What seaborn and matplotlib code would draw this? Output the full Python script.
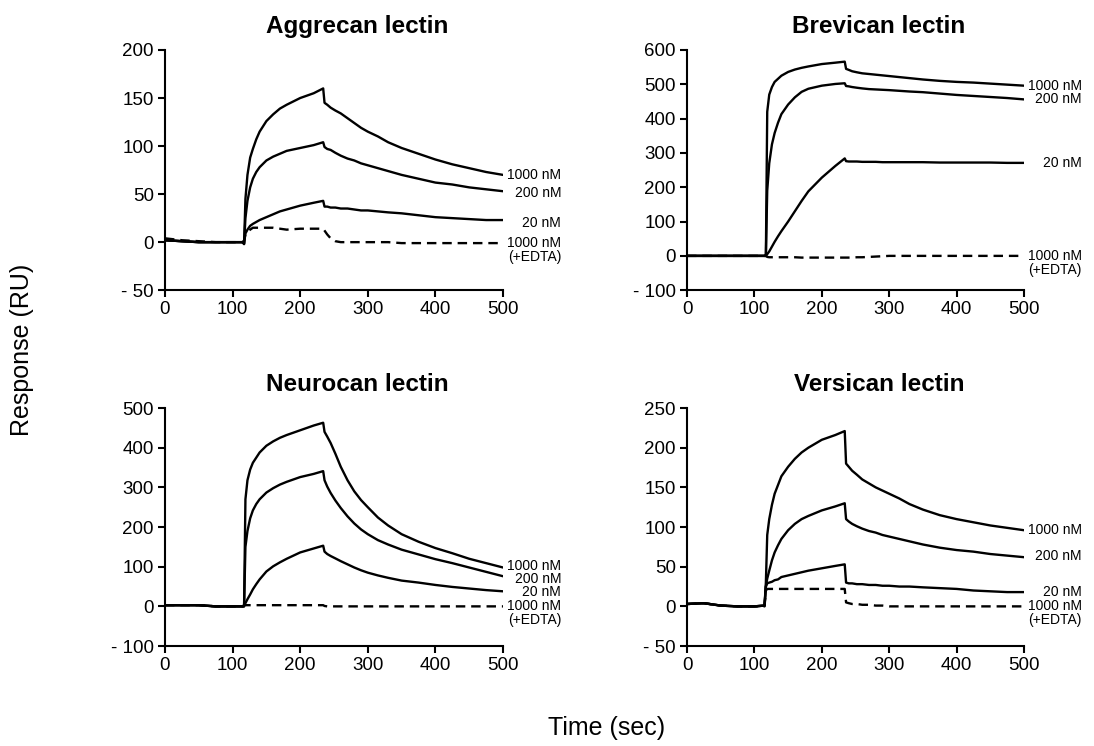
import numpy as np
import pandas as pd
import seaborn as sns
import matplotlib.pyplot as plt

# time points (sec)
t = [0, 25, 50, 75, 100, 115, 117, 119, 122, 126, 130, 135, 140, 150, 160, 170, 180,
     200, 220, 234, 236, 240, 245, 252, 260, 270, 280, 290, 300, 315, 330, 350,
     375, 400, 425, 450, 475, 500]

# Aggrecan lectin
agg_1000 = [2, 1, 0, 0, 0, 0, -2, 45, 70, 88, 97, 107, 115, 126, 133, 139, 143,
            150, 155, 160, 145, 143, 140, 137, 134, 129, 124, 119, 115, 110, 104, 98,
            92, 86, 81, 77, 73, 70]
agg_200 = [2, 1, 0, 0, 0, 0, -2, 25, 43, 57, 66, 73, 78, 85, 89, 92, 95,
           98, 101, 104, 99, 97, 96, 93, 90, 87, 85, 82, 80, 77, 74, 70,
           66, 62, 60, 57, 55, 53]
agg_20 = [2, 1, 0, 0, 0, 0, -1, 9, 13, 17, 19, 21, 23, 26, 29, 32, 34,
          38, 41, 43, 37, 37, 36, 36, 35, 35, 34, 33, 33, 32, 31, 30,
          28, 26, 25, 24, 23, 23]
agg_edta = [4, 2, 1, 0, 0, 0, 2, 8, 11, 13, 15, 15, 15, 15, 15, 14, 13,
            14, 14, 14, 12, 8, 4, 1, 0, 0, 0, 0, 0, 0, 0, -1,
            -1, -1, -1, -1, -1, -1]

# Brevican lectin
bre_1000 = [0, 0, 0, 0, 0, 0, 0, 420, 470, 492, 507, 516, 525, 536, 543, 548, 552,
            559, 563, 566, 545, 542, 538, 535, 532, 530, 528, 526, 524, 521, 518, 514,
            510, 507, 505, 502, 499, 496]
bre_200 = [0, 0, 0, 0, 0, 0, 0, 190, 270, 325, 358, 388, 413, 441, 462, 478, 487,
           496, 501, 503, 495, 494, 492, 490, 488, 486, 485, 484, 483, 481, 479, 477,
           473, 469, 466, 463, 460, 456]
bre_20 = [0, 0, 0, 0, 0, 0, 0, 5, 13, 27, 41, 57, 72, 100, 130, 160, 188,
          228, 262, 284, 276, 275, 275, 275, 274, 274, 274, 273, 273, 273, 273, 273,
          272, 272, 272, 272, 271, 271]
bre_edta = [0, 0, 0, 0, 0, 0, 0, -3, -4, -4, -4, -4, -4, -4, -4, -5, -5,
            -5, -5, -5, -5, -5, -5, -4, -4, -3, -2, -1, 0, 0, 0, 0,
            0, 0, 0, 0, 0, 0]

# Neurocan lectin
neu_1000 = [3, 3, 3, 0, 0, 0, 0, 270, 318, 345, 362, 375, 388, 405, 416, 425, 432,
            444, 456, 463, 440, 428, 412, 385, 352, 318, 290, 268, 250, 224, 204, 182,
            163, 147, 134, 120, 109, 98]
neu_200 = [3, 3, 3, 0, 0, 0, 0, 150, 190, 222, 242, 258, 270, 287, 298, 307, 314,
           326, 334, 341, 318, 302, 286, 267, 248, 227, 209, 194, 182, 167, 156, 143,
           131, 119, 109, 98, 87, 76]
neu_20 = [3, 3, 3, 0, 0, 0, 3, 8, 18, 30, 43, 56, 68, 88, 101, 111, 120,
          136, 146, 153, 138, 132, 127, 121, 114, 106, 98, 91, 85, 78, 72, 65,
          60, 54, 49, 45, 41, 38]
neu_edta = [3, 3, 3, 0, 0, 0, 3, 3, 3, 3, 3, 3, 3, 3, 3, 3, 3,
            3, 3, 3, 1, 0, 0, 0, 0, 0, 0, 0, 0, 0, 0, 0,
            0, 0, 0, 0, 0, 0]

# Versican lectin
ver_1000 = [3, 4, 1, 0, 0, 1, 30, 90, 110, 128, 142, 153, 164, 176, 186, 194, 200,
            210, 216, 221, 180, 176, 171, 166, 160, 155, 150, 146, 142, 136, 129, 122,
            115, 110, 106, 102, 99, 96]
ver_200 = [3, 4, 1, 0, 0, 1, 25, 35, 45, 58, 68, 77, 85, 96, 104, 110, 114,
           121, 126, 130, 110, 107, 104, 101, 98, 95, 93, 90, 88, 85, 82, 78,
           74, 71, 69, 66, 64, 62]
ver_20 = [3, 4, 1, 0, 0, 1, 25, 29, 30, 31, 33, 34, 37, 39, 41, 43, 45,
          48, 51, 53, 30, 29, 29, 28, 28, 27, 27, 26, 26, 25, 25, 24,
          23, 22, 20, 19, 18, 18]
ver_edta = [3, 4, 1, 0, 0, 0, 20, 22, 22, 22, 22, 22, 22, 22, 22, 22, 22,
            22, 22, 22, 5, 4, 3, 3, 2, 2, 1, 1, 0, 0, 0, 0,
            0, 0, 0, 0, 0, 0]

titles = ['Aggrecan lectin', 'Brevican lectin', 'Neurocan lectin', 'Versican lectin']
curve_labels = ['1000 nM', '200 nM', '20 nM', '1000 nM']
panels = [
    [agg_1000, agg_200, agg_20, agg_edta],
    [bre_1000, bre_200, bre_20, bre_edta],
    [neu_1000, neu_200, neu_20, neu_edta],
    [ver_1000, ver_200, ver_20, ver_edta],
]
yticks = [np.arange(-50, 201, 50), np.arange(-100, 601, 100),
          np.arange(-100, 501, 100), np.arange(-50, 251, 50)]

sns.set_style('ticks')
plt.rcParams['font.family'] = ['Liberation Sans', 'DejaVu Sans']
for k in ['text.color', 'axes.labelcolor', 'xtick.color', 'ytick.color', 'axes.edgecolor']:
    plt.rcParams[k] = 'black'

fig = plt.figure(figsize=(10.94, 7.46), dpi=100)
# axes rectangles [left, bottom, width, height] in figure fraction
rects = [[0.1508, 0.611, 0.309, 0.322], [0.628, 0.611, 0.308, 0.322],
         [0.1508, 0.134, 0.309, 0.319], [0.628, 0.134, 0.308, 0.319]]

# label nudges (RU) so the stacked neurocan labels don't overlap
nudges = [[0, -2, -3, 0], [0, 0, 0, 0], [4, -8, -3, 0], [0, 2, 0, 0]]

for i in range(4):
    ax = fig.add_axes(rects[i])
    series = panels[i]
    for j, vals in enumerate(series):
        dashed = (j == 3)
        sns.lineplot(x=t, y=vals, ax=ax, color='black', lw=1.7,
                     linestyle=(0, (4, 2.5)) if dashed else '-',
                     estimator=None, zorder=2 if dashed else 3)
    ax.set_xlim(0, 500)
    ax.set_ylim(yticks[i][0], yticks[i][-1])
    ax.set_xticks(np.arange(0, 501, 100))
    ax.set_yticks(yticks[i])
    ax.set_yticklabels([f'- {abs(v)}' if v < 0 else str(v) for v in yticks[i]])
    ax.tick_params(labelsize=13.5, width=1.5, length=5, direction='out', pad=3)
    for s in ['left', 'bottom']:
        ax.spines[s].set_linewidth(1.5)
    sns.despine(ax=ax)
    ax.set_title(titles[i], fontsize=17.5, fontweight='bold', pad=12, x=0.57)
    ax.set_xlabel('')
    ax.set_ylabel('')
    tr = ax.get_yaxis_transform()
    for j, vals in enumerate(series):
        yv = vals[-1] + nudges[i][j]
        ax.text(1.172, yv, curve_labels[j], transform=tr, ha='right',
                va='center', fontsize=10, clip_on=False)
        if j == 3:
            ax.annotate('(+EDTA)', xy=(1.172, yv), xycoords=tr,
                        xytext=(0, -10), textcoords='offset points',
                        ha='right', va='center', fontsize=10)

fig.text(0.02, 0.531, 'Response (RU)', rotation=90, ha='center', va='center', fontsize=18)
fig.text(0.554, 0.024, 'Time (sec)', ha='center', va='center', fontsize=18)

plt.savefig('out.png', dpi=100)
